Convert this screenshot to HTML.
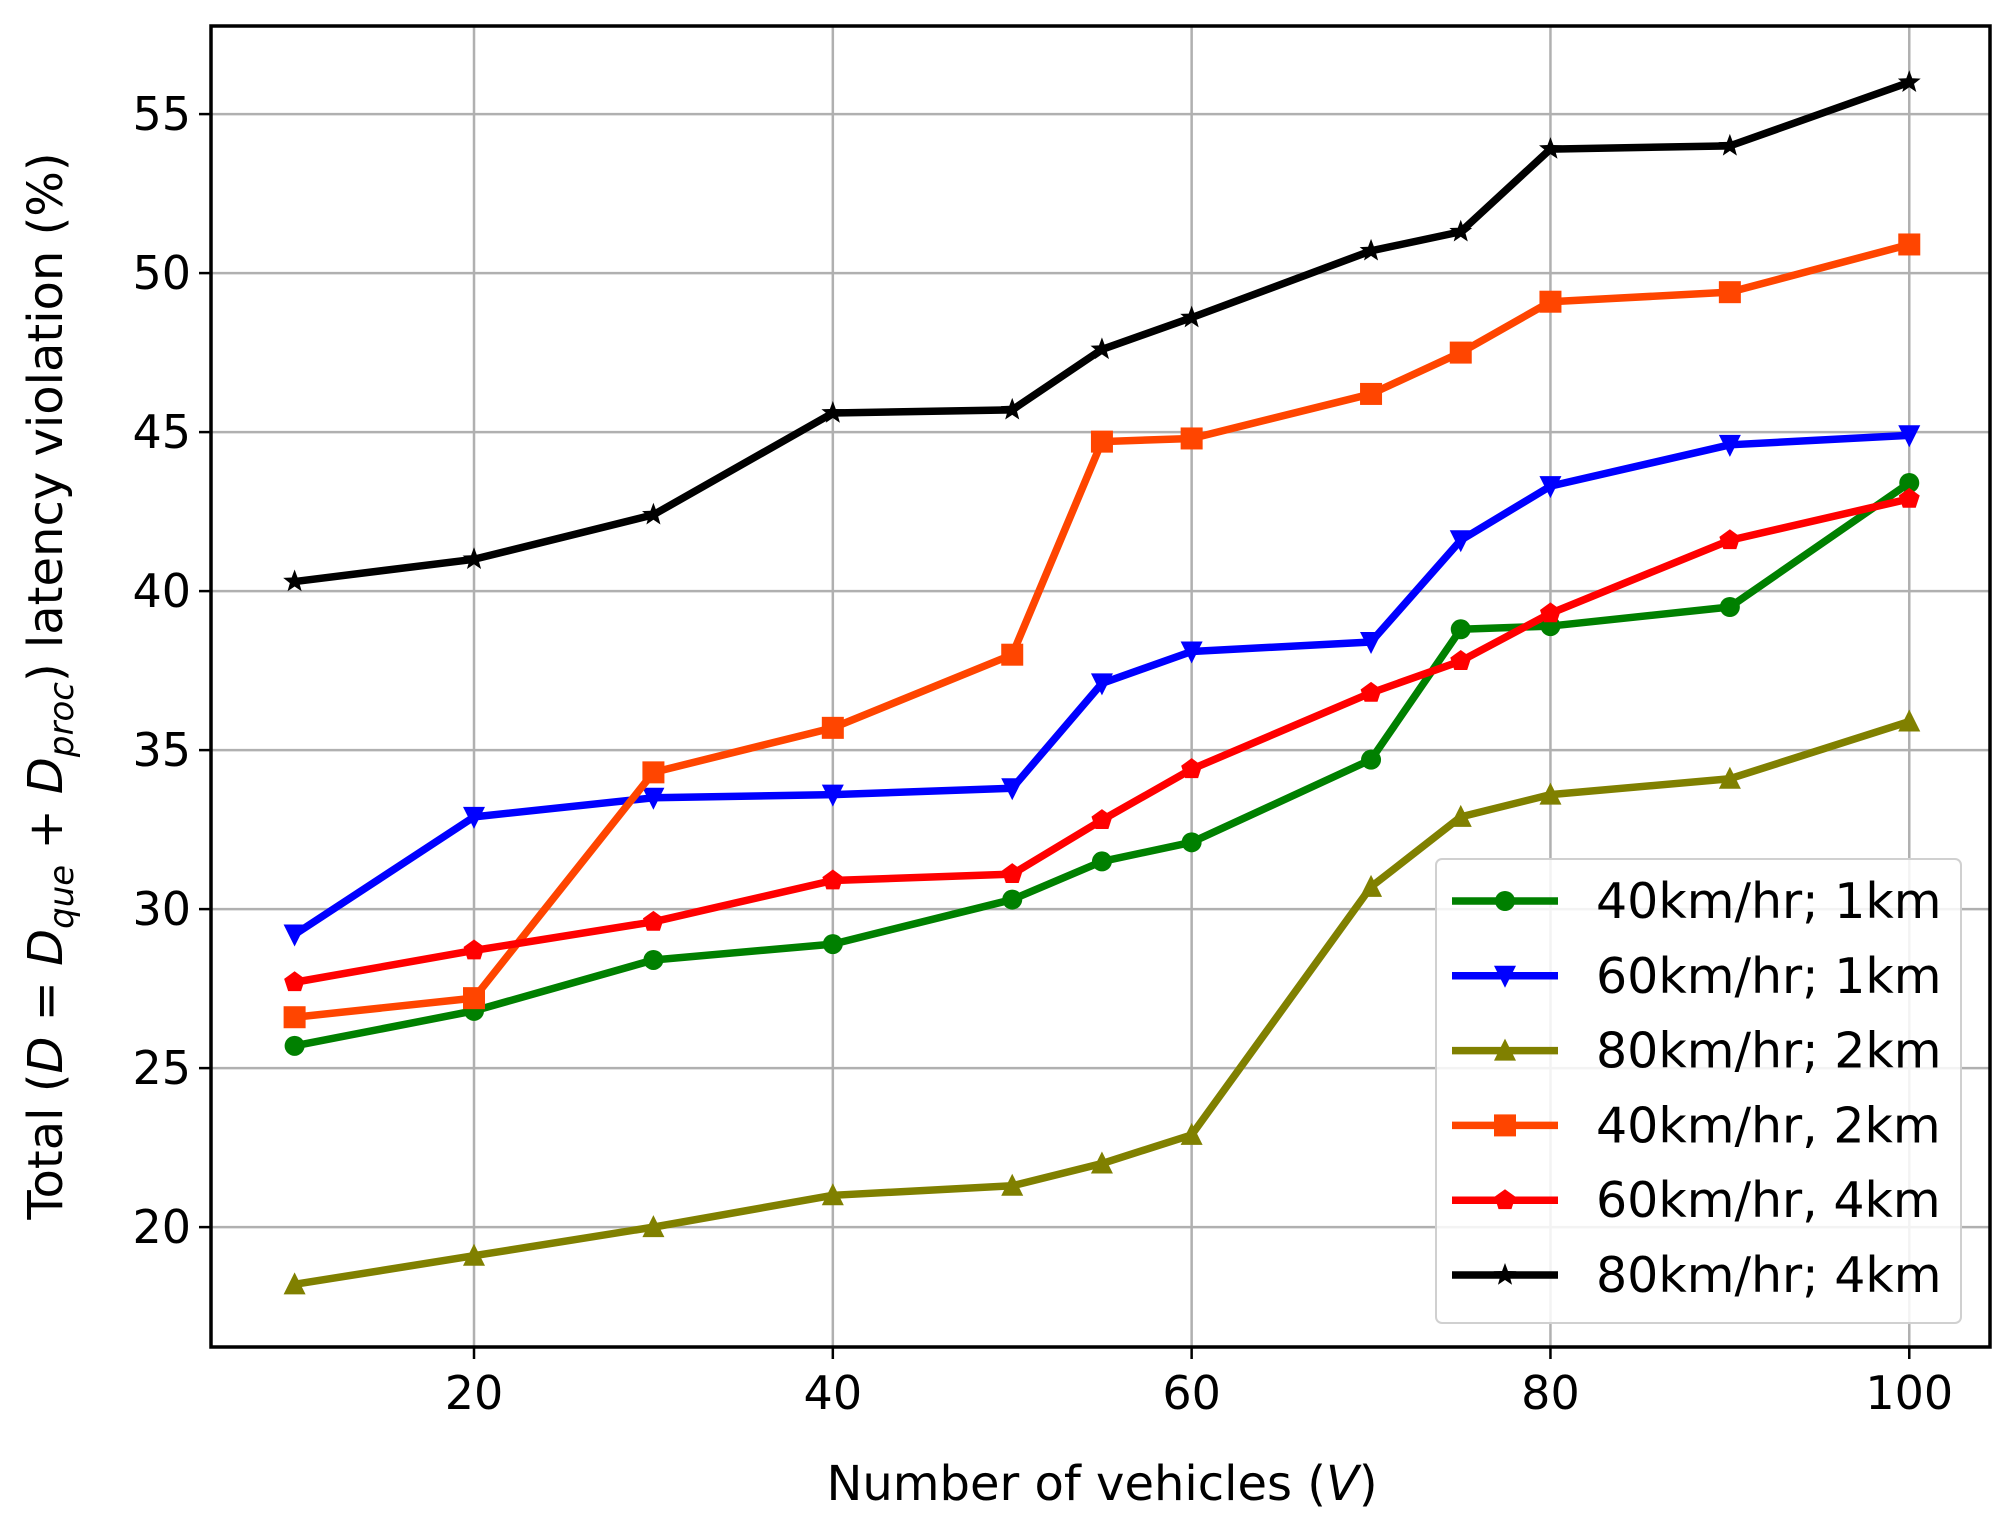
<!DOCTYPE html>
<html><head><meta charset="utf-8"><style>
html,body{margin:0;padding:0;background:#fff;}
svg{display:block;font-family:"DejaVu Sans","Liberation Sans",sans-serif;}
</style></head><body>
<svg id="chart" width="2010" height="1531" viewBox="0 0 2010 1531" xmlns="http://www.w3.org/2000/svg">
<rect width="2010" height="1531" fill="#fff"/>
<g id="grid"></g>
<g id="series"></g>
<rect x="211" y="26" width="1779" height="1321" fill="none" stroke="#000" stroke-width="3.5"/>
<g id="ticks"></g>
<text x="1102" y="1500" font-size="48" text-anchor="middle">Number of vehicles (<tspan font-style="italic">V</tspan>)</text>
<text transform="translate(62,686) rotate(-90)" font-size="48" text-anchor="middle">Total (<tspan font-style="italic">D</tspan> = <tspan font-style="italic">D</tspan><tspan font-style="italic" font-size="34" dy="11">que</tspan><tspan dy="-11"> + </tspan><tspan font-style="italic">D</tspan><tspan font-style="italic" font-size="34" dy="11">proc</tspan><tspan dy="-11">) latency violation (%)</tspan></text>
<g id="legend"></g>
</svg>
<script>
const xValues = [10,20,30,40,50,55,60,70,75,80,90,100];
const xTicks = [20,40,60,80,100];
const yTicks = [20,25,30,35,40,45,50,55];
const seriesNames = ["40km/hr; 1km","60km/hr; 1km","80km/hr; 2km","40km/hr, 2km","60km/hr, 4km","80km/hr; 4km"];
const s40_1 = [25.7,26.8,28.4,28.9,30.3,31.5,32.1,34.7,38.8,38.9,39.5,43.4];
const s60_1 = [29.2,32.9,33.5,33.6,33.8,37.1,38.1,38.4,41.6,43.3,44.6,44.9];
const s80_2 = [18.2,19.1,20.0,21.0,21.3,22.0,22.9,30.7,32.9,33.6,34.1,35.9];
const s40_2 = [26.6,27.2,34.3,35.7,38.0,44.7,44.8,46.2,47.5,49.1,49.4,50.9];
const s60_4 = [27.7,28.7,29.6,30.9,31.1,32.8,34.4,36.8,37.8,39.3,41.6,42.9];
const s80_4 = [40.3,41.0,42.4,45.6,45.7,47.6,48.6,50.7,51.3,53.9,54.0,56.0];

const NS="http://www.w3.org/2000/svg";
const L=211,R=1990,T=26,B=1347;
const X0=5.34,X1=104.5,Y0=16.23,Y1=57.77;
function sx(v){return L+(v-X0)/(X1-X0)*(R-L);}
function sy(v){return B-(v-Y0)/(Y1-Y0)*(B-T);}
function mk(tag,attrs,parent){const e=document.createElementNS(NS,tag);for(const k in attrs)e.setAttribute(k,attrs[k]);parent.appendChild(e);return e;}
const grid=document.getElementById('grid'),ticks=document.getElementById('ticks');
xTicks.forEach(v=>{
  const g=mk('line',{x1:sx(v),x2:sx(v),y1:T,y2:B,stroke:'#b0b0b0','stroke-width':2.5},grid);
  
  
  const t=mk('line',{x1:sx(v),x2:sx(v),y1:B,y2:B+12,stroke:'#000','stroke-width':2.5},ticks);
  
  
  const tx=mk('text',{x:sx(v),y:B+62,'font-size':46,'text-anchor':'middle'},ticks);
  tx.textContent=v;
  
  
});
yTicks.forEach(v=>{
  const g=mk('line',{x1:L,x2:R,y1:sy(v),y2:sy(v),stroke:'#b0b0b0','stroke-width':2.5},grid);
  
  
  const t=mk('line',{x1:L-12,x2:L,y1:sy(v),y2:sy(v),stroke:'#000','stroke-width':2.5},ticks);
  
  
  const tx=mk('text',{x:L-20,y:sy(v)+16,'font-size':46,'text-anchor':'end'},ticks);
  tx.textContent=v;
  
  
});
function marker(type,x,y,c,parent){
  const r=10;let e;
  if(type==='o')e=mk('circle',{cx:x,cy:y,r:r,fill:c},parent);
  else if(type==='v')e=mk('polygon',{points:`${x-r-1},${y-r} ${x+r+1},${y-r} ${x},${y+r+2}`,fill:c},parent);
  else if(type==='^')e=mk('polygon',{points:`${x-r-1},${y+r} ${x+r+1},${y+r} ${x},${y-r-2}`,fill:c},parent);
  else if(type==='s')e=mk('rect',{x:x-r-1,y:y-r-1,width:2*r+2,height:2*r+2,fill:c},parent);
  else if(type==='p'){let p=[];for(let i=0;i<5;i++){const a=-Math.PI/2+i*2*Math.PI/5;p.push((x+(r+1)*Math.cos(a))+','+(y+(r+1)*Math.sin(a)));}e=mk('polygon',{points:p.join(' '),fill:c},parent);}
  else {let p=[];for(let i=0;i<10;i++){const a=-Math.PI/2+i*Math.PI/5;const rr=i%2?r*0.5:r+2;p.push((x+rr*Math.cos(a))+','+(y+rr*Math.sin(a)));}e=mk('polygon',{points:p.join(' '),fill:c},parent);}
  return e;
}
const allSeries=[s40_1,s60_1,s80_2,s40_2,s60_4,s80_4];
const colors=['#008000','#0000ff','#808000','#ff4500','#ff0000','#000000'];
const markers=['o','v','^','s','p','*'];
const sg=document.getElementById('series'),lg=document.getElementById('legend');
allSeries.forEach((vals,i)=>{
  const g=mk('g',{},sg);
  
  
  const pts=vals.map((v,j)=>sx(xValues[j])+','+sy(v)).join(' ');
  const pl=mk('polyline',{points:pts,fill:'none',stroke:colors[i],'stroke-width':7.5,'stroke-linejoin':'round'},g);
  
  
  vals.forEach((v,j)=>{const m=marker(markers[i],sx(xValues[j]),sy(v),colors[i],g);
    
    });
});
const box=mk('rect',{x:1436,y:859,width:525,height:464,rx:6,fill:'#fff','fill-opacity':0.85,stroke:'#d0d0d0','stroke-width':2},lg);


seriesNames.forEach((n,i)=>{
  const y=901+i*74.8;
  const g=mk('g',{},lg);
  
  
  mk('line',{x1:1452,x2:1558,y1:y,y2:y,stroke:colors[i],'stroke-width':7.5},g);
  marker(markers[i],1505,y,colors[i],g);
  const t=mk('text',{x:1596,y:y+17,'font-size':49},g);
  t.textContent=n;
});
</script>
</body></html>
